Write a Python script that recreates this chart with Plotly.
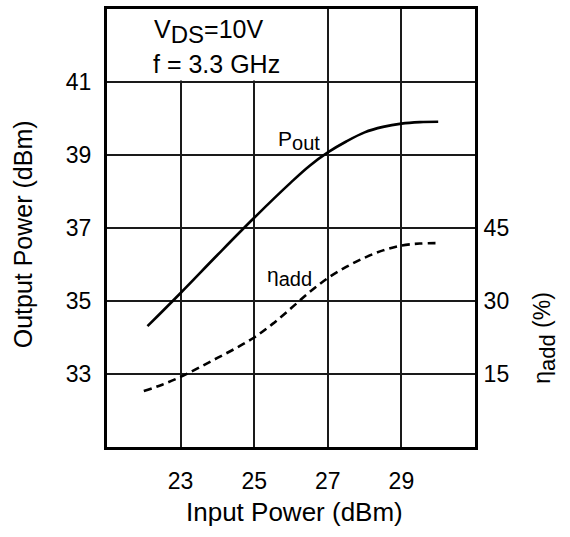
import plotly.graph_objects as go

# Input power (dBm) and output power (dBm) — solid curve
pin_pout = [22.1, 23, 24, 25, 26, 26.5, 27, 27.5, 28, 28.5, 29, 29.5, 30]
pout = [34.31, 35.22, 36.26, 37.28, 38.25, 38.7, 39.07, 39.37, 39.62, 39.77, 39.86, 39.9, 39.91]

# Input power (dBm) and power-added efficiency (%) — dashed curve
pin_eta = [22, 22.5, 23, 23.5, 24, 24.5, 25, 25.5, 26, 26.5, 27, 27.5, 28, 28.5, 29, 29.5, 30]
eta_add = [11.5, 12.8, 14.4, 16.3, 18.3, 20.3, 22.5, 25.3, 28.5, 31.8, 34.7, 37.0, 38.9, 40.4, 41.4, 41.8, 41.9]

x_ticks = [23, 25, 27, 29]
y_ticks = [33, 35, 37, 39, 41]
y2_ticks = [15, 30, 45]

FONT = "Liberation Sans, Arial, Helvetica, sans-serif"


def sub(main, subscript, size):
    return f"{main}<sub><span style='font-size:{size}px'>{subscript}</span></sub>"


fig = go.Figure()
fig.add_trace(go.Scatter(x=pin_pout, y=pout, mode="lines",
                         line=dict(color="black", width=2.6, shape="spline"),
                         showlegend=False, yaxis="y"))
fig.add_trace(go.Scatter(x=pin_eta, y=eta_add, mode="lines",
                         line=dict(color="black", width=2.6, dash="8px,5px", shape="spline"),
                         showlegend=False, yaxis="y2"))

axis_common = dict(showline=True, linecolor="black", linewidth=3,
                   ticks="", zeroline=False,
                   tickfont=dict(family=FONT, size=23, color="black"))

PX_L, PX_R, PX_T, PX_B = 107, 475.5, 6, 447.5


def px(xp, yp):
    return (xp - PX_L) / (PX_R - PX_L), (PX_B - yp) / (PX_B - PX_T)


def ann(text, xp, yp, size, angle=0):
    x, y = px(xp, yp)
    return dict(text=text, xref="paper", yref="paper", x=x, y=y,
                xanchor="center", yanchor="middle", showarrow=False, textangle=angle,
                font=dict(family=FONT, size=size, color="black"))


fig.update_layout(
    width=570, height=537,
    margin=dict(l=107, r=94.5, t=6, b=89.5),
    paper_bgcolor="white", plot_bgcolor="white",
    hovermode=False,
    xaxis=dict(range=[21, 31], tickvals=x_ticks, showgrid=True,
               gridcolor="#1a1a1a", gridwidth=1.5, mirror=True,
               ticklabelstandoff=11, **axis_common),
    yaxis=dict(range=[31, 43], tickvals=y_ticks, showgrid=True,
               gridcolor="#1a1a1a", gridwidth=1.5, mirror=True,
               ticklabelstandoff=8, **axis_common),
    yaxis2=dict(range=[0, 90], tickvals=y2_ticks, overlaying="y", side="right",
                showgrid=False, ticklabelstandoff=1, **axis_common),
    shapes=[dict(type="rect", xref="x", yref="y", x0=21, x1=26.97, y0=41.04, y1=43,
                 fillcolor="white", line=dict(width=0), layer="between")],
    annotations=[
        ann(sub("V", "DS", 24) + "=10V", 209, 29, 25),
        ann("f = 3.3 GHz", 217, 61, 25),
        ann(sub("P", "out", 20), 299, 139, 21),
        ann(sub("η", "add", 20), 290, 276, 21),
        ann("Output Power (dBm)", 23, 233, 25, -90),
        ann("Input Power (dBm)", 295, 513, 26),
        ann(sub("η", "add", 22) + " (%)", 545, 337, 23, -90),
    ],
)

fig.write_html("out.html", config={"displayModeBar": False},
               post_script="document.body.style.margin='0px';")
